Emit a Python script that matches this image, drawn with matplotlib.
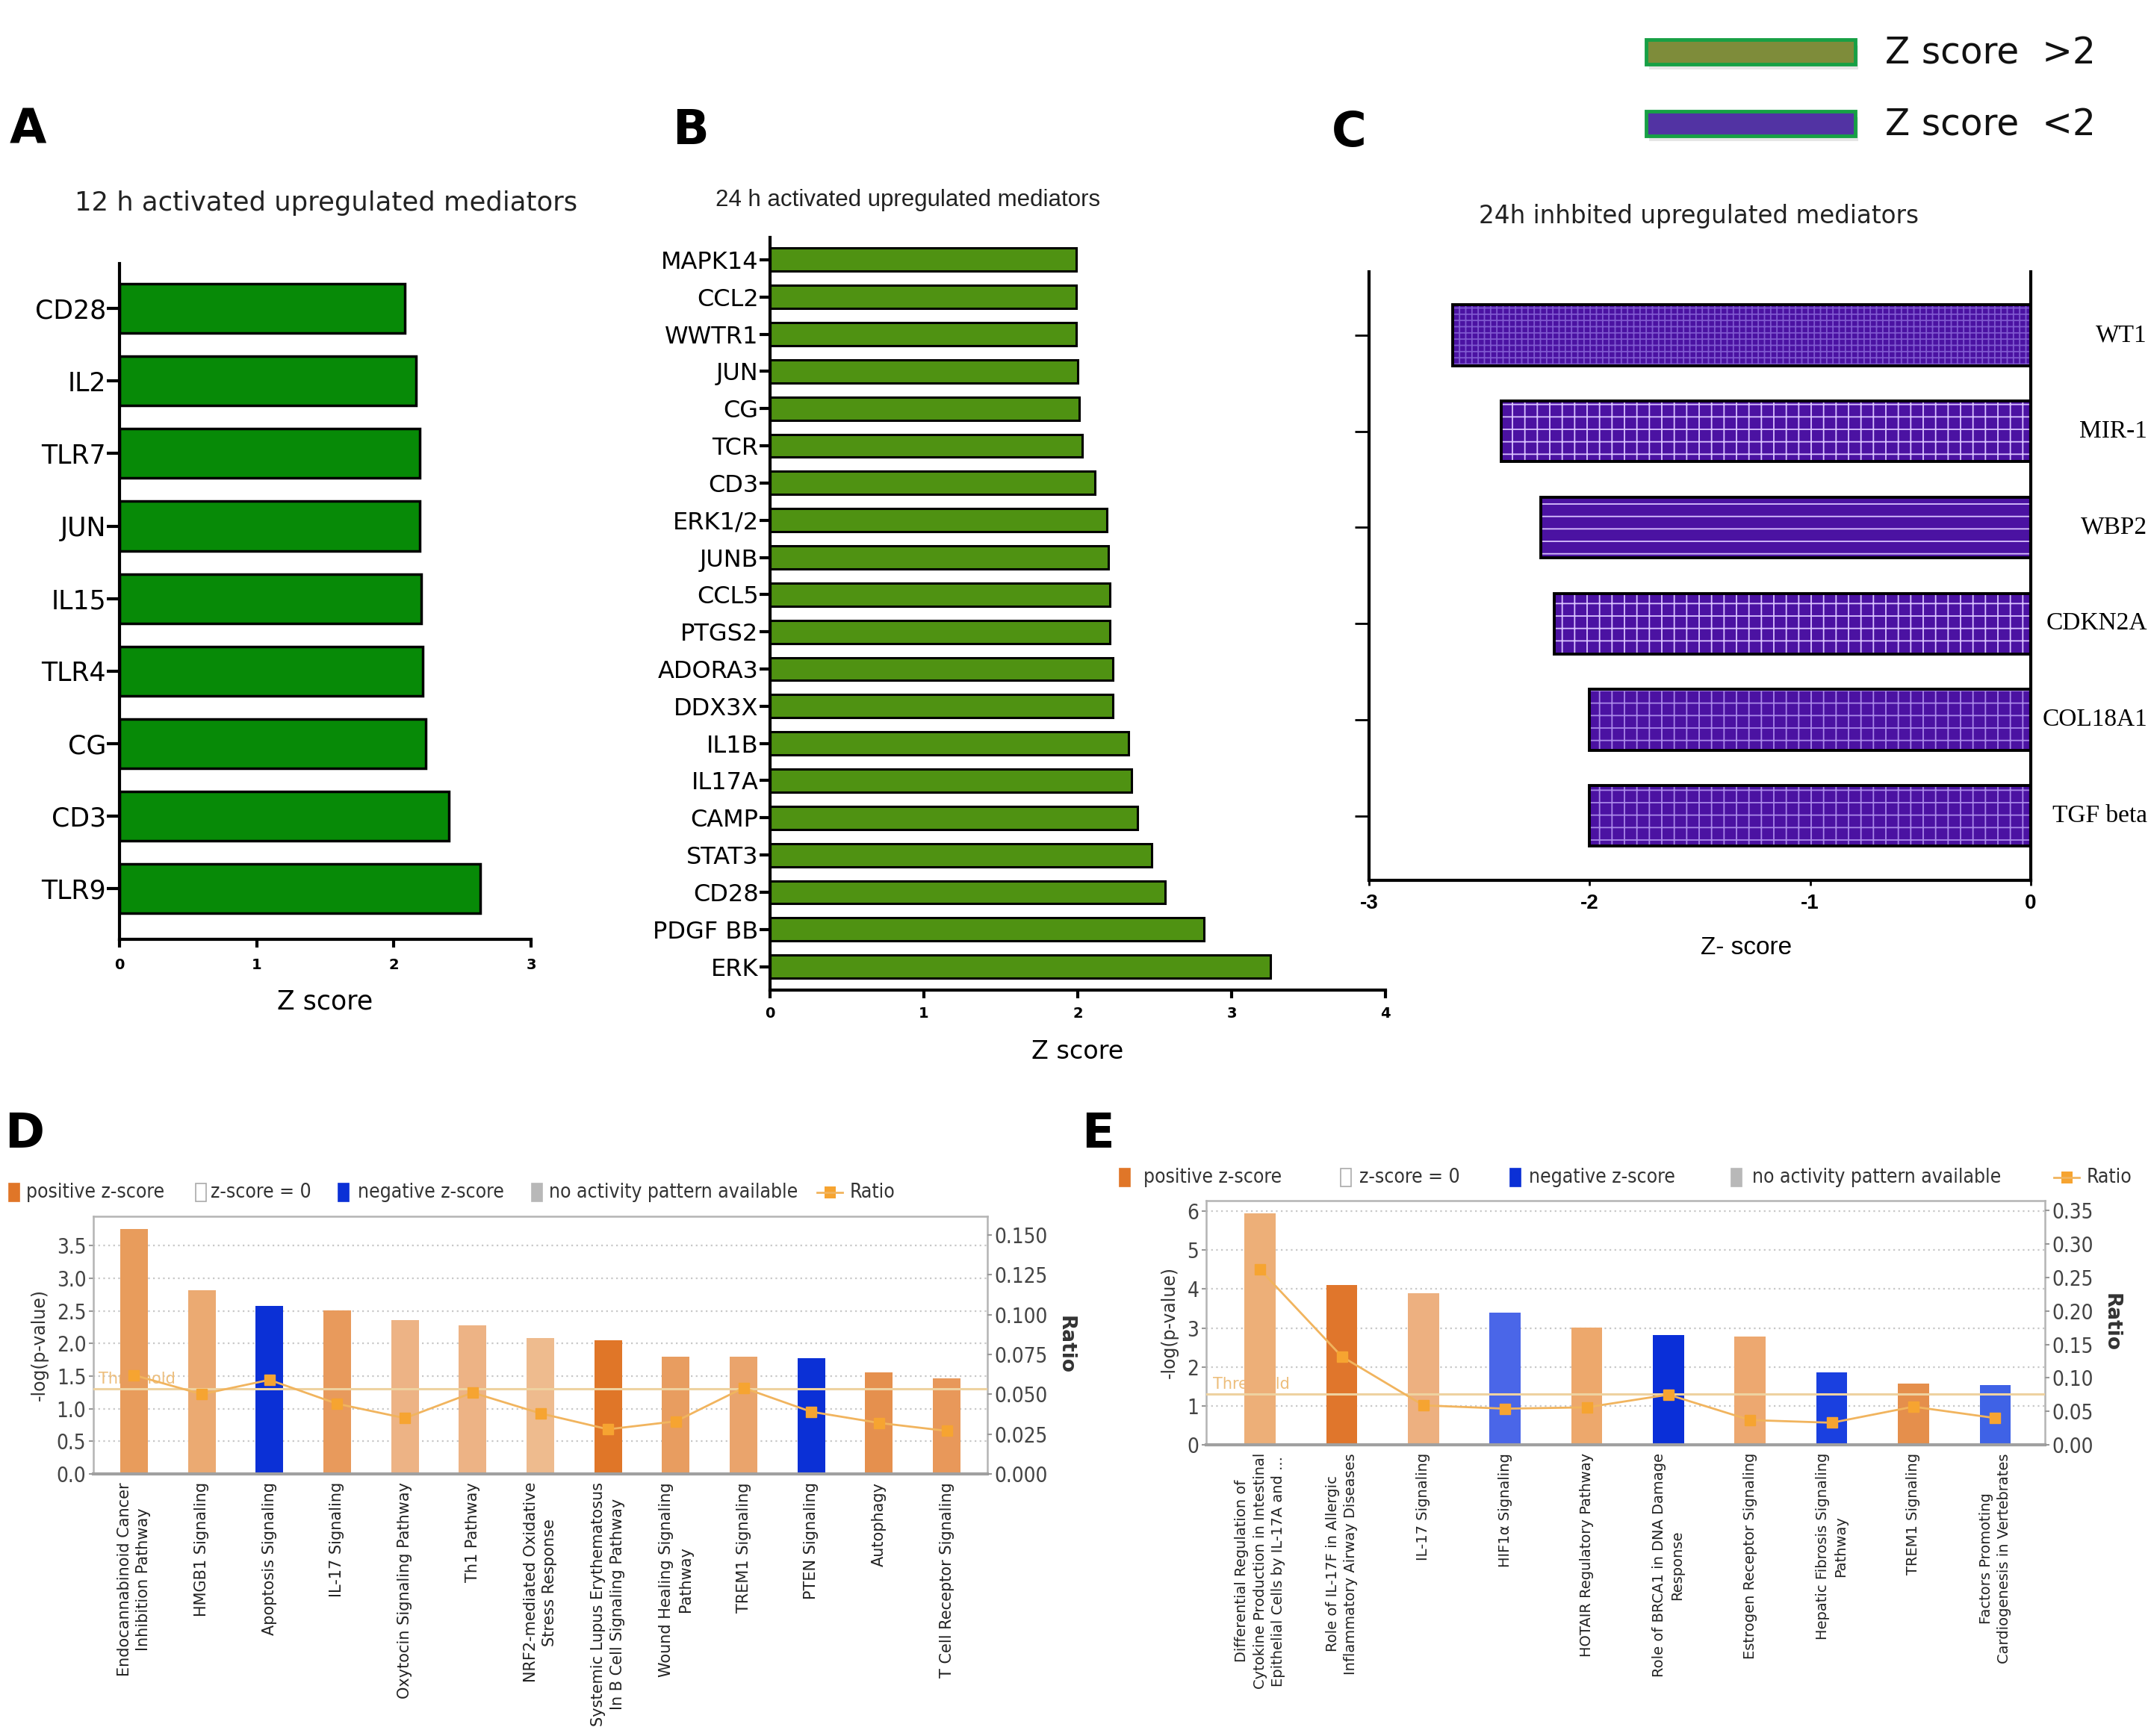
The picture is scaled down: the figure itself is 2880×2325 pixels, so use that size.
import numpy as np
import matplotlib
matplotlib.use('Agg')
import matplotlib.pyplot as plt
from matplotlib.patches import Rectangle
from matplotlib import font_manager

# ---- data ----
a_labels = ['CD28', 'IL2', 'TLR7', 'JUN', 'IL15', 'TLR4', 'CG', 'CD3', 'TLR9']
a_z = [2.08, 2.16, 2.19, 2.19, 2.20, 2.21, 2.23, 2.40, 2.63]

b_labels = ['MAPK14', 'CCL2', 'WWTR1', 'JUN', 'CG', 'TCR', 'CD3', 'ERK1/2', 'JUNB', 'CCL5',
            'PTGS2', 'ADORA3', 'DDX3X', 'IL1B', 'IL17A', 'CAMP', 'STAT3', 'CD28', 'PDGF BB', 'ERK']
b_z = [1.99, 1.99, 1.99, 2.00, 2.01, 2.03, 2.11, 2.19, 2.20, 2.21,
       2.21, 2.23, 2.23, 2.33, 2.35, 2.39, 2.48, 2.57, 2.82, 3.25]

c_labels = ['WT1', 'MIR-1', 'WBP2', 'CDKN2A', 'COL18A1', 'TGF beta']
c_z = [-2.62, -2.40, -2.22, -2.16, -2.00, -2.00]

d_labels = ['Endocannabinoid Cancer\nInhibition Pathway', 'HMGB1 Signaling', 'Apoptosis Signaling',
            'IL-17 Signaling', 'Oxytocin Signaling Pathway', 'Th1 Pathway',
            'NRF2-mediated Oxidative\nStress Response',
            'Systemic Lupus Erythematosus\nIn B Cell Signaling Pathway',
            'Wound Healing Signaling\nPathway', 'TREM1 Signaling', 'PTEN Signaling', 'Autophagy',
            'T Cell Receptor Signaling']
d_logp = [3.76, 2.82, 2.58, 2.51, 2.36, 2.28, 2.08, 2.05, 1.80, 1.80, 1.77, 1.56, 1.47]
d_ratio = [0.062, 0.050, 0.059, 0.044, 0.035, 0.051, 0.038, 0.028, 0.033, 0.054, 0.039, 0.032, 0.027]
d_colors = ['#E89C5C', '#EBAA72', '#0B30D6', '#E89A5C', '#EDB385', '#EDB385', '#EEBB8E',
            '#E07628', '#E89D60', '#EAA46C', '#0B30D6', '#E5904E', '#E8985A']

e_labels = ['Differential Regulation of\nCytokine Production in Intestinal\nEpithelial Cells by IL-17A and ...',
            'Role of IL-17F in Allergic\nInflammatory Airway Diseases', 'IL-17 Signaling',
            'HIF1\u03b1 Signaling', 'HOTAIR Regulatory Pathway',
            'Role of BRCA1 in DNA Damage\nResponse', 'Estrogen Receptor Signaling',
            'Hepatic Fibrosis Signaling\nPathway', 'TREM1 Signaling',
            'Factors Promoting\nCardiogenesis in Vertebrates']
e_logp = [5.95, 4.10, 3.89, 3.40, 3.01, 2.81, 2.78, 1.86, 1.58, 1.53]
e_ratio = [0.262, 0.132, 0.059, 0.054, 0.056, 0.075, 0.037, 0.033, 0.057, 0.040]
e_colors = ['#EDAF78', '#E0762C', '#EDB080', '#4A66E8', '#EDA86C', '#0A2FD8', '#EDA870',
            '#1A40E0', '#E58F4C', '#3F62E6']

threshold = 1.3

# ---- fonts ----
cond_path = None
for f in font_manager.fontManager.ttflist:
    fn = f.fname.replace(' ', '')
    if fn.endswith('DejaVuSansCondensed.ttf'):
        cond_path = f.fname
if cond_path is None:
    for f in font_manager.fontManager.ttflist:
        if f.fname.endswith('LiberationSansNarrow-Regular.ttf'):
            cond_path = f.fname
if cond_path:
    cond = font_manager.FontProperties(fname=cond_path)
    cscale = 1.0
else:
    cond = font_manager.FontProperties(family='DejaVu Sans')
    cscale = 0.86

W, H = 2880, 2325
fig = plt.figure(figsize=(28.8, 23.25), dpi=100)


def box(l, t, r, b):
    return [l / W, 1 - b / H, (r - l) / W, (b - t) / H]


def ftext(x, y, s, **kw):
    fig.text(x / W, 1 - y / H, s, **kw)


# ---- panel A ----
ax = fig.add_axes(box(160, 353, 711, 1258))
ax.barh(np.arange(len(a_labels)), a_z, height=0.68, color='#078A07', edgecolor='black', linewidth=2.5)
ax.set_ylim(len(a_labels) - 1 + 0.70, -0.62)
ax.set_xlim(0, 3)
ax.set_yticks(np.arange(len(a_labels)))
ax.set_yticklabels(a_labels, fontsize=25)
ax.set_xticks([0, 1, 2, 3])
ax.set_xticklabels(['0', '1', '2', '3'], fontsize=14, fontweight='bold')
for s in ['top', 'right']:
    ax.spines[s].set_visible(False)
for s in ['left', 'bottom']:
    ax.spines[s].set_linewidth(3)
ax.tick_params(axis='y', length=12, width=3, pad=1)
ax.tick_params(axis='x', length=8, width=3, pad=10)
ax.set_xlabel('Z score', fontsize=25, labelpad=16)
ftext(437, 272, '12 h activated upregulated mediators', fontsize=25.5, ha='center', va='center', color='#222222')

# ---- panel B ----
ax = fig.add_axes(box(1031, 318, 1855, 1326))
ax.barh(np.arange(len(b_labels)), b_z, height=0.62, color='#4F9212', edgecolor='black', linewidth=2.2)
ax.set_ylim(len(b_labels) - 1 + 0.63, -0.6)
ax.set_xlim(0, 4)
ax.set_yticks(np.arange(len(b_labels)))
ax.set_yticklabels(b_labels, fontsize=23)
ax.set_xticks([0, 1, 2, 3, 4])
ax.set_xticklabels(['0', '1', '2', '3', '4'], fontsize=14, fontweight='bold')
for s in ['top', 'right']:
    ax.spines[s].set_visible(False)
for s in ['left', 'bottom']:
    ax.spines[s].set_linewidth(3)
ax.tick_params(axis='y', length=10, width=3, pad=1)
ax.tick_params(axis='x', length=8, width=3, pad=8)
ax.set_xlabel('Z score', fontsize=24, labelpad=18)
ftext(1216, 268, '24 h activated upregulated mediators', fontsize=22.5, ha='center', va='center',
      family='Liberation Sans', color='#222222')

# ---- panel C ----
plt.rcParams['hatch.linewidth'] = 1.3
c_hatch = ['++', '+', '-', '+', '+', '+']
c_hatch_col = ['#7F58CF', '#D9C2FF', '#D9C2FF', '#D9C2FF', '#A987E8', '#A987E8']
ax = fig.add_axes(box(1833, 364, 2719, 1179))
yc = np.arange(len(c_labels))
for i in range(len(c_labels)):
    ax.barh(yc[i], c_z[i], height=0.63, color='#4B12A2', edgecolor=c_hatch_col[i], linewidth=0,
            hatch=c_hatch[i])
ax.barh(yc, c_z, height=0.63, fill=False, edgecolor='black', linewidth=2.8)
ax.set_ylim(len(c_labels) - 1 + 0.67, -0.66)
ax.set_xlim(-3, 0)
ax.set_yticks(yc)
ax.set_yticklabels([])
ax.set_xticks([-3, -2, -1, 0])
ax.set_xticklabels(['-3', '-2', '-1', '0'], fontsize=20, fontweight='bold', family='Liberation Sans')
ax.spines['top'].set_visible(False)
for s in ['left', 'bottom', 'right']:
    ax.spines[s].set_linewidth(3)
ax.tick_params(axis='y', length=14, width=2, direction='out')
ax.tick_params(axis='x', length=5, width=2, pad=8)
ax.set_xlabel('Z- score', fontsize=24, labelpad=12, family='Liberation Sans')
ax.xaxis.set_label_coords(0.57, -0.092)
for i, lab in enumerate(c_labels):
    ax.text(1.176, yc[i], lab, transform=ax.get_yaxis_transform(), ha='right', va='center',
            fontsize=24, family='Liberation Serif')
ftext(2275, 289, '24h inhbited upregulated mediators', fontsize=23.5, ha='center', va='center', color='#222222')

# legend top right
for yy, fc, lab in [(53, '#7E8C3A', 'Z score  >2'), (149, '#5233A3', 'Z score  <2')]:
    fig.add_artist(Rectangle((2208 / W, 1 - (yy + 40) / H), 280 / W, 32 / H, transform=fig.transFigure,
                             facecolor='#cccccc', edgecolor='none', alpha=0.5))
    fig.add_artist(Rectangle((2204 / W, 1 - (yy + 33) / H), 280 / W, 33 / H, transform=fig.transFigure,
                             facecolor=fc, edgecolor='#17A045', linewidth=3.5))
    ftext(2524, yy + 18, lab, fontsize=35, ha='left', va='center', color='#111111')

# panel letters
for lx, ly, lt in [(37, 175, 'A'), (924, 175, 'B'), (1806, 178, 'C'), (33, 1519, 'D'), (1470, 1519, 'E')]:
    ftext(lx, ly, lt, fontsize=46, fontweight='bold', ha='center', va='center')


# ---- IPA panels ----
def ipa_panel(rect, labels, logp, ratio, colors, width, xlim, ymax, yticks, yfmt,
              rmax, rticks, rfmt, labelsize):
    ax = fig.add_axes(rect)
    x = np.arange(len(labels))
    for yv in yticks[1:]:
        ax.axhline(yv, color='#C8C8C8', lw=1.6, ls=(0, (1, 2)), zorder=0)
    ax.text(xlim[0] + 0.08, threshold + 0.04 * ymax / 4, 'Threshold', color='#EDBE7C',
            fontsize=15, ha='left', va='bottom', zorder=1)
    ax.bar(x, logp, width=width, color=colors, zorder=2)
    ax.axhline(threshold, color='#EED2A0', lw=2.2, zorder=3)
    ax.set_xlim(*xlim)
    ax.set_ylim(0, ymax)
    ax.set_yticks(yticks)
    ax.set_yticklabels([yfmt % v for v in yticks])
    ax.set_xticks(x)
    ax.set_xticklabels(labels, rotation=90, fontsize=labelsize, multialignment='center',
                       linespacing=1.35, color='#222222')
    for lbl in ax.get_yticklabels():
        lbl.set_fontproperties(cond)
        lbl.set_size(20 * cscale)
        lbl.set_color('#444444')
    for s in ['top', 'left', 'right']:
        ax.spines[s].set_color('#B4B4B4')
        ax.spines[s].set_linewidth(1.8)
    ax.spines['bottom'].set_color('#A0A0A0')
    ax.spines['bottom'].set_linewidth(3)
    ax.tick_params(axis='y', length=4, width=1.5, color='#999999', pad=3)
    ax.tick_params(axis='x', length=0, pad=8)
    ax.set_ylabel('-log(p-value)', fontsize=17, color='#333333', labelpad=8)

    ax2 = ax.twinx()
    ax2.plot(x, ratio, color='#F1B45E', lw=2, marker='s', ms=10, mfc='#F6A431', mec='#F6A431', zorder=5)
    ax2.set_ylim(0, rmax)
    ax2.set_yticks(rticks)
    ax2.set_yticklabels([rfmt % v for v in rticks])
    for lbl in ax2.get_yticklabels():
        lbl.set_fontproperties(cond)
        lbl.set_size(20 * cscale)
        lbl.set_color('#444444')
    for s in ax2.spines.values():
        s.set_visible(False)
    ax2.tick_params(axis='y', length=4, width=1.5, color='#999999', pad=3)
    ax2.set_ylabel('Ratio', fontsize=19, fontweight='bold', color='#333333', rotation=270, labelpad=26)
    return ax


def ipa_legend(sq_x, txt_x, yc, mk_x):
    kinds = [('#E07628', '#E07628'), ('white', '#AAAAAA'), ('#0B30D6', '#0B30D6'), ('#B8B8B8', '#B8B8B8')]
    texts = ['positive z-score', 'z-score = 0', 'negative z-score', 'no activity pattern available']
    for (fc, ec), sx, tx, t in zip(kinds, sq_x, txt_x, texts):
        fig.add_artist(Rectangle((sx / W, 1 - (yc + 12) / H), 14 / W, 24 / H, transform=fig.transFigure,
                                 facecolor=fc, edgecolor=ec, linewidth=1.2))
        fig.text(tx / W, 1 - yc / H, t, fontproperties=cond, fontsize=19 * cscale, va='center',
                 ha='left', color='#333333')
    fig.add_artist(plt.Line2D([mk_x / W, (mk_x + 34) / W], [1 - yc / H, 1 - yc / H],
                              transform=fig.transFigure, color='#F1B45E', lw=2))
    fig.add_artist(Rectangle(((mk_x + 10) / W, 1 - (yc + 8) / H), 15 / W, 16 / H, transform=fig.transFigure,
                             facecolor='#F6A431', edgecolor='none'))
    fig.text((mk_x + 44) / W, 1 - yc / H, 'Ratio', fontproperties=cond, fontsize=19 * cscale,
             va='center', ha='left', color='#333333')


ipa_panel(box(125, 1629, 1322, 1974), d_labels, d_logp, d_ratio, d_colors, 0.41, (-0.6, 12.6),
          3.95, [0, 0.5, 1.0, 1.5, 2.0, 2.5, 3.0, 3.5], '%.1f',
          0.1616, [0, 0.025, 0.05, 0.075, 0.1, 0.125, 0.15], '%.3f', 15)
ipa_legend([12, 262, 453, 712], [35, 282, 479, 735], 1597, 1094)

ipa_panel(box(1615, 1608, 2738, 1935), e_labels, e_logp, e_ratio, e_colors, 0.38, (-0.66, 9.61),
          6.27, [0, 1, 2, 3, 4, 5, 6], '%d',
          0.365, [0, 0.05, 0.10, 0.15, 0.20, 0.25, 0.30, 0.35], '%.2f', 14)
ipa_legend([1499, 1795, 2022, 2318], [1531, 1820, 2047, 2346], 1577, 2750)

fig.savefig('out.png', dpi=100, facecolor='white')
